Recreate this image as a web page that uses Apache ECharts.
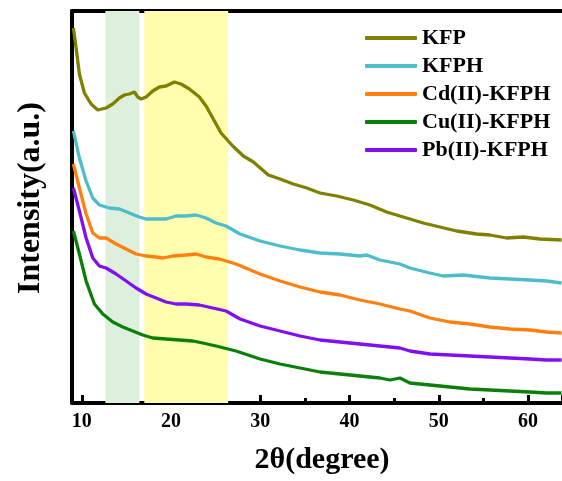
<!DOCTYPE html>
<html>
<head>
<meta charset="utf-8">
<script src="https://cdn.jsdelivr.net/npm/echarts@6/dist/echarts.min.js"></script>
<style>
  html, body { margin: 0; padding: 0; background: #fff; }
  #xrd_charts { width: 562px; height: 481px; }
</style>
</head>
<body>
<div id="xrd_charts"></div>
<script>
// series names and colours
const seriesNames = ['KFP', 'KFPH', 'Cd(II)-KFPH', 'Cu(II)-KFPH', 'Pb(II)-KFPH'];
const seriesColors = ['#808000', '#4dbdcc', '#ff800e', '#0a800a', '#8010f0'];

// shaded bands [from, to] in 2θ
const greenBand = [12.64, 16.45];
const yellowBand = [17.0, 26.4];

// [2θ, intensity (a.u.)]
const kfp = [
  [9.06, 375], [9.36, 355], [9.73, 329], [10.29, 310], [11.04, 299], [11.79, 293],
  [12.72, 295], [13.47, 299], [14.21, 305], [14.77, 308], [15.33, 309], [15.89, 311],
  [16.27, 306], [16.64, 304], [17.2, 306], [17.95, 312], [18.69, 316], [19.44, 317],
  [20.37, 321], [21.12, 319], [22.05, 314], [23.17, 306], [23.92, 297], [24.67, 285],
  [25.6, 270], [26.91, 257], [28.1, 247], [29.22, 241], [30.9, 228], [32.21, 224],
  [33.7, 219], [35.2, 215], [36.69, 210], [38.56, 207], [40.41, 203], [42.28, 198],
  [44.15, 191], [45.64, 187], [46.39, 185], [48.25, 180], [50.12, 176], [51.99, 172],
  [54.23, 169], [55.72, 168], [57.59, 165], [59.45, 166], [61.32, 164], [63.75, 163]
];
const kfph = [
  [9.06, 272], [9.73, 245], [10.48, 222], [11.23, 205], [11.97, 198], [13.09, 195],
  [14.21, 194], [15.33, 190], [16.45, 186], [17.2, 184], [18.32, 184], [19.44, 184],
  [20.56, 187], [21.68, 187], [22.8, 188], [23.92, 185], [25.04, 180], [26.16, 177],
  [27.73, 169], [29.97, 162], [32.21, 157], [34.45, 153], [36.69, 150], [38.93, 149],
  [41.16, 147], [41.92, 148], [43.4, 143], [45.64, 139], [46.76, 135], [49, 130],
  [50.49, 127], [52.73, 128], [55.72, 125], [57.96, 124], [60.2, 123], [62.07, 122],
  [63.75, 120]
];
const cdKfph = [
  [9.06, 239], [9.73, 215], [10.48, 189], [11.23, 170], [11.97, 165], [12.72, 165],
  [13.84, 159], [14.96, 154], [16.08, 149], [17.2, 147], [18.32, 146], [19.07, 145],
  [20.19, 147], [21.68, 148], [22.8, 149], [23.92, 146], [25.41, 144], [27.28, 139],
  [29.97, 129], [32.21, 122], [34.45, 116], [36.69, 111], [38.93, 108], [41.16, 103],
  [43.4, 99], [45.64, 94], [46.76, 92], [49, 85], [51.24, 81], [53.48, 79],
  [55.72, 76], [57.96, 74], [60.2, 73], [62.07, 71], [63.75, 70]
];
const cuKfph = [
  [9.06, 172], [9.73, 149], [10.48, 122], [11.41, 99], [12.35, 89], [13.47, 81],
  [14.59, 76], [15.71, 72], [16.83, 68], [17.95, 65], [19.44, 64], [20.93, 63],
  [22.43, 62], [23.55, 60], [25.04, 57], [27.28, 52], [29.97, 44], [32.21, 39],
  [34.45, 35], [36.69, 31], [38.93, 29], [41.16, 27], [43.4, 25], [44.52, 23],
  [45.64, 25], [46.76, 20], [49, 18], [51.24, 16], [53.48, 14], [55.72, 13],
  [57.96, 12], [60.2, 11], [62.07, 10], [63.75, 10]
];
const pbKfph = [
  [9.06, 215], [9.73, 192], [10.48, 165], [11.23, 145], [11.97, 137], [12.72, 135],
  [13.84, 129], [14.96, 122], [16.08, 115], [17.2, 109], [18.32, 105], [19.44, 101],
  [20.56, 99], [21.68, 99], [23.17, 98], [24.67, 95], [26.16, 92], [27.73, 84],
  [29.97, 77], [32.21, 72], [34.45, 67], [36.69, 63], [38.93, 61], [41.16, 59],
  [43.4, 57], [45.64, 55], [46.76, 52], [49, 49], [51.24, 48], [53.48, 47],
  [55.72, 46], [57.96, 45], [60.2, 44], [62.07, 43], [63.75, 43]
];
const seriesData = [kfp, kfph, cdKfph, cuKfph, pbKfph];

const FONT = "'Liberation Serif', 'Times New Roman', serif";
const X_MIN = 8.9, X_MAX = 63.8;
const Y_MIN = 0, Y_MAX = 392;

function getOption () {
  const blackLine = { show: true, onZero: false, lineStyle: { color: '#000', width: 4 } };
  const option = {
    animation: false,
    color: seriesColors,
    grid: { left: 72, right: 0, top: 11, bottom: 78 },
    legend: {
      orient: 'vertical',
      left: 365,
      top: 24,
      padding: 0,
      icon: 'roundRect',
      itemWidth: 52,
      itemHeight: 4,
      itemGap: 0,
      selectedMode: false,
      data: seriesNames,
      textStyle: { fontFamily: FONT, fontWeight: 'bold', fontSize: 22, color: '#000', lineHeight: 28 }
    },
    xAxis: [
      {
        type: 'value',
        position: 'bottom',
        min: X_MIN,
        max: X_MAX,
        splitNumber: 5,
        name: '2θ(degree)',
        nameLocation: 'middle',
        nameGap: 42,
        nameTextStyle: { fontFamily: FONT, fontWeight: 'bold', fontSize: 30, color: '#000', padding: [0, 0, 0, 10] },
        axisLine: blackLine,
        axisTick: { show: true, inside: true, length: 8, lineStyle: { color: '#000', width: 3 } },
        minorTick: { show: true, splitNumber: 2, length: 5, lineStyle: { color: '#000', width: 3 } },
        axisLabel: {
          showMinLabel: false,
          showMaxLabel: false,
          margin: 9,
          fontFamily: FONT,
          fontWeight: 'bold',
          fontSize: 20,
          color: '#000'
        },
        splitLine: { show: false }
      },
      {
        // top frame line
        type: 'value',
        position: 'top',
        min: X_MIN,
        max: X_MAX,
        axisLine: blackLine,
        axisTick: { show: false },
        axisLabel: { show: false },
        splitLine: { show: false }
      }
    ],
    yAxis: {
      type: 'value',
      min: Y_MIN,
      max: Y_MAX,
      name: 'Intensity(a.u.)',
      nameLocation: 'middle',
      nameGap: 25,
      nameTextStyle: { fontFamily: FONT, fontWeight: 'bold', fontSize: 32, color: '#000', padding: [0, 0, 0, 18] },
      axisLine: blackLine,
      axisTick: { show: false },
      axisLabel: { show: false },
      splitLine: { show: false }
    },
    series: seriesNames.map((name, index) => {
      const s = {
        name: name,
        type: 'line',
        xAxisIndex: 0,
        data: seriesData[index],
        showSymbol: false,
        symbol: 'none',
        z: 3,
        lineStyle: { width: 3.3, color: seriesColors[index] },
        itemStyle: { color: seriesColors[index] }
      };
      if (index === 0) {
        s.markArea = {
          silent: true,
          z: 1,
          data: [
            [{ xAxis: greenBand[0], itemStyle: { color: '#deefde' } }, { xAxis: greenBand[1] }],
            [{ xAxis: yellowBand[0], itemStyle: { color: '#fefeae' } }, { xAxis: yellowBand[1] }]
          ]
        };
      }
      return s;
    })
  };
  return option;
}

const xrd_charts = echarts.init(document.getElementById('xrd_charts'));
xrd_charts.setOption(getOption());
window.addEventListener('resize', () => {
  xrd_charts.resize();
});
</script>
</body>
</html>
